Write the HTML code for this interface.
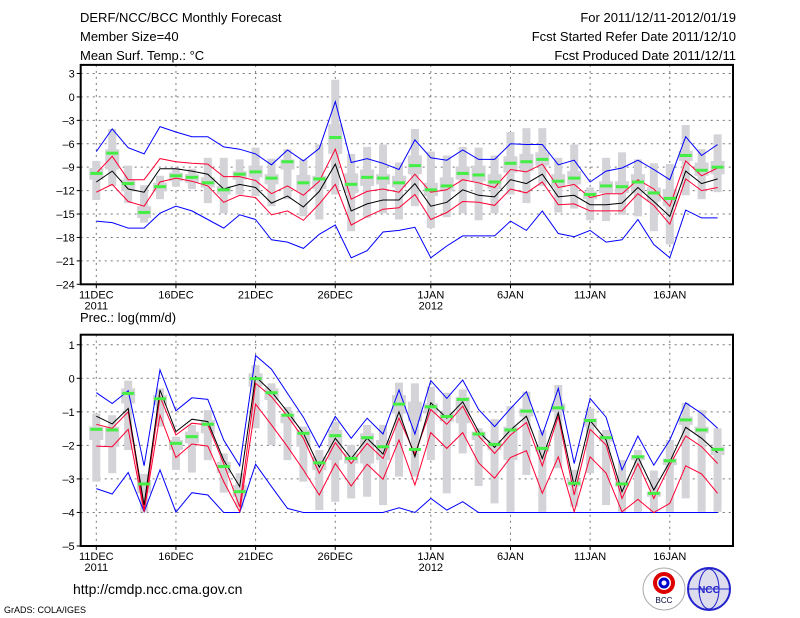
<!DOCTYPE html>
<html><head><meta charset="utf-8"><style>
html,body{margin:0;padding:0;background:#fff;width:800px;height:618px;overflow:hidden}
svg{display:block;font-family:"Liberation Sans",sans-serif}
</style></head><body>
<svg id="chart" width="800" height="618" viewBox="0 0 800 618">
<text x="80" y="22" font-size="13">DERF/NCC/BCC Monthly Forecast</text>
<text x="80" y="41" font-size="13">Member Size=40</text>
<text x="80" y="60" font-size="13">Mean Surf. Temp.: °C</text>
<text x="736" y="22" font-size="13" text-anchor="end">For 2011/12/11-2012/01/19</text>
<text x="736" y="41" font-size="13" text-anchor="end">Fcst Started Refer Date 2011/12/10</text>
<text x="736" y="60" font-size="13" text-anchor="end">Fcst Produced Date 2011/12/11</text>
<text x="80" y="322" font-size="13">Prec.: log(mm/d)</text>
<text x="73" y="594" font-size="14">http://cmdp.ncc.cma.gov.cn</text>
<text x="4" y="613" font-size="9">GrADS: COLA/IGES</text>
<g>
<circle cx="664" cy="589" r="21" fill="#fff" stroke="#aaa"/>
<circle cx="664" cy="583" r="9" fill="none" stroke="#d00" stroke-width="4"/>
<circle cx="664" cy="583" r="4" fill="none" stroke="#00c" stroke-width="3"/>
<text x="664" y="603" font-size="8" text-anchor="middle" fill="#003">BCC</text>
</g>
<g>
<circle cx="709" cy="589" r="21" fill="#dde" stroke="#22c" stroke-width="2"/>
<ellipse cx="709" cy="589" rx="10" ry="20" fill="none" stroke="#22c"/>
<line x1="689" y1="589" x2="729" y2="589" stroke="#22c"/>
<text x="709" y="593" font-size="10" text-anchor="middle" fill="#22c" font-weight="bold">NCC</text>
</g>
<g id="p1"></g><g id="p2"></g>
</svg>
<script>
// ---------- data ----------
const days = 40;
const xLabels = ["11DEC","16DEC","21DEC","26DEC","1JAN","6JAN","11JAN","16JAN"];
const xLabelIdx = [0,5,10,15,21,26,31,36];
const yearLabels = ["2011","2012"];
const yearIdx = [0,21];

const tTicks = [3,0,-3,-6,-9,-12,-15,-18,-21,-24];
const tBlueHi = [-7.0,-4.1,-6.5,-7.3,-3.8,-4.5,-5.1,-5.1,-6.4,-6.7,-7.3,-8.7,-6.8,-8.2,-6.6,-0.6,-8.4,-7.9,-8.5,-9.3,-5.5,-7.8,-8.1,-6.8,-8.0,-8.0,-6.0,-6.1,-6.1,-8.7,-8.1,-10.9,-9.5,-9.1,-8.1,-9.3,-10.6,-5.1,-7.5,-6.1];
const tBlueLo = [-15.9,-16.1,-16.8,-16.8,-14.9,-14.0,-14.6,-15.7,-16.8,-15.1,-15.7,-18.3,-18.6,-19.4,-17.6,-16.4,-20.6,-19.7,-17.3,-17.1,-16.7,-20.6,-19.1,-17.8,-17.8,-17.8,-15.9,-17.1,-14.6,-17.5,-17.9,-17.1,-18.6,-18.3,-15.7,-18.9,-20.6,-14.5,-15.5,-15.5];
const tRedHi = [-9.8,-7.6,-10.6,-10.6,-7.9,-8.3,-8.5,-8.6,-10.2,-10.2,-10.7,-12.4,-11.4,-12.6,-10.8,-6.7,-13.1,-12.1,-11.8,-12.2,-9.9,-12.2,-11.9,-10.6,-11.0,-11.6,-9.3,-9.6,-8.6,-11.6,-11.2,-12.9,-12.4,-12.4,-10.6,-11.8,-14.0,-8.2,-10.1,-9.1];
const tMean = [-10.9,-9.5,-11.8,-12.2,-9.2,-9.2,-9.5,-9.9,-11.8,-11.2,-11.6,-13.6,-12.7,-14.1,-12.1,-8.6,-14.6,-13.7,-13.2,-13.2,-11.1,-14.0,-13.5,-11.9,-12.6,-12.8,-10.6,-11.1,-9.9,-12.8,-12.6,-13.8,-13.8,-13.6,-11.6,-13.4,-15.3,-9.5,-11.1,-10.5];
const tRedLo = [-12.2,-11.2,-13.4,-14.0,-10.9,-10.4,-10.8,-11.4,-13.5,-12.6,-12.9,-15.1,-14.6,-15.8,-13.7,-11.2,-16.4,-15.3,-14.4,-14.2,-12.5,-15.7,-14.8,-13.4,-13.5,-13.9,-11.8,-12.3,-10.9,-13.8,-13.7,-14.6,-14.6,-14.6,-12.4,-13.9,-16.3,-10.5,-12.0,-11.6];
const tObs = [-9.8,-7.2,-11.1,-14.8,-11.5,-10.1,-10.3,-11.0,-11.9,-9.9,-9.6,-10.4,-8.3,-11.0,-10.5,-5.2,-11.2,-10.3,-10.4,-11.0,-8.8,-11.9,-11.4,-9.8,-10.0,-10.9,-8.5,-8.3,-8.0,-10.8,-10.4,-12.5,-11.4,-11.5,-10.9,-12.3,-13.0,-7.5,-9.4,-9.0];
const tBoxMax = [-8.2,-4.1,-8.8,-11.3,-10.1,-9.1,-9.2,-7.8,-7.8,-8.0,-6.5,-7.9,-6.7,-8.0,-6.1,2.2,-7.3,-6.4,-6.1,-8.4,-4.1,-7.0,-7.5,-6.4,-6.5,-7.5,-4.5,-4.0,-4.0,-7.8,-6.1,-11.6,-7.8,-7.1,-8.0,-8.5,-8.6,-3.6,-6.7,-4.8];
const tBoxMin = [-13.2,-11.4,-13.6,-16.1,-13.1,-11.5,-11.8,-13.6,-14.9,-12.5,-12.7,-14.0,-13.1,-15.3,-15.7,-12.5,-17.2,-15.5,-14.9,-15.7,-14.0,-16.8,-15.4,-14.9,-15.8,-14.9,-12.5,-13.6,-11.4,-14.8,-14.3,-15.8,-15.9,-15.1,-15.3,-17.2,-18.9,-12.6,-13.1,-12.2];
const tBoxQ3 = [-9.1,-6.7,-10.6,-14.0,-11.0,-9.7,-9.9,-10.3,-11.4,-9.5,-8.8,-9.9,-8.0,-10.0,-10.1,-3.5,-9.8,-9.3,-9.9,-10.1,-7.5,-11.0,-10.3,-8.9,-8.8,-9.9,-7.6,-7.3,-7.1,-9.9,-9.5,-12.1,-10.8,-10.8,-9.9,-11.6,-11.8,-6.9,-8.4,-8.2];
const tBoxQ1 = [-10.6,-9.3,-12.1,-15.5,-12.1,-10.8,-11.0,-11.6,-12.5,-10.6,-10.3,-11.2,-9.3,-12.1,-11.8,-7.3,-12.3,-11.4,-11.2,-11.6,-9.9,-12.7,-12.1,-10.6,-10.8,-11.8,-9.7,-9.5,-8.8,-11.6,-11.2,-13.1,-12.3,-12.3,-12.3,-13.4,-14.0,-8.2,-10.1,-9.9];

const pTicks = [1,0,-1,-2,-3,-4,-5];
const pBlueHi = [-0.43,-0.75,-0.37,-2.61,0.25,-0.97,-0.58,-0.63,-1.84,-2.61,0.68,0.27,-0.45,-1.16,-2.06,-1.14,-1.79,-1.19,-1.66,-0.35,-1.66,-0.07,-0.6,-0.05,-0.93,-1.44,-0.9,-0.4,-1.69,-0.3,-2.54,-0.6,-1.16,-2.73,-1.72,-2.59,-1.84,-0.73,-1.05,-1.49];
const pBlueLo = [-3.29,-3.45,-2.81,-3.98,-2.73,-3.99,-3.41,-3.48,-4,-4,-2.56,-3.23,-3.88,-4,-4,-4,-4,-4,-4,-3.86,-4,-3.58,-3.93,-3.68,-4,-4,-4,-4,-4,-4,-4,-4,-4,-4,-4,-4,-4,-4,-4,-4];
const pRedHi = [-1.37,-1.49,-1.0,-3.93,-0.55,-1.69,-1.34,-1.39,-2.54,-3.83,-0.15,-0.55,-1.13,-1.79,-2.83,-1.92,-2.54,-1.94,-2.39,-1.19,-2.26,-0.93,-1.37,-0.83,-1.72,-2.24,-1.69,-1.32,-2.61,-1.13,-3.48,-1.52,-1.99,-3.58,-2.54,-3.58,-2.59,-1.72,-2.04,-2.54];
const pMean = [-1.13,-1.36,-0.9,-3.78,-0.35,-1.59,-1.22,-1.29,-2.44,-3.23,0.05,-0.4,-1.0,-1.64,-2.65,-1.79,-2.39,-1.79,-2.26,-1.0,-2.34,-0.73,-1.19,-0.7,-1.59,-2.06,-1.54,-1.13,-2.39,-1.03,-3.21,-1.26,-1.84,-3.38,-2.34,-3.33,-2.49,-1.46,-1.79,-2.22];
const pRedLo = [-2.02,-2.04,-1.52,-3.98,-1.1,-2.36,-1.96,-2.02,-3.08,-3.98,-0.77,-1.39,-2.04,-2.73,-3.48,-2.54,-3.21,-2.56,-3.01,-1.84,-3.18,-1.62,-2.09,-1.62,-2.52,-2.98,-2.36,-2.16,-3.43,-2.34,-3.98,-2.34,-2.83,-3.98,-3.61,-4.0,-3.73,-2.61,-2.85,-3.43];
const pObs = [-1.52,-1.54,-0.45,-3.15,-0.61,-1.94,-1.74,-1.37,-2.63,-3.38,-0.01,-0.43,-1.1,-1.64,-2.52,-1.71,-2.39,-1.77,-2.04,-0.77,-2.12,-0.85,-1.14,-0.63,-1.66,-1.97,-1.54,-0.98,-2.09,-0.88,-3.13,-1.26,-1.77,-3.15,-2.34,-3.43,-2.46,-1.24,-1.54,-2.12];
const pBoxMax = [-1.05,-1.1,-0.07,-2.85,-0.3,-1.74,-1.39,-0.95,-2.24,-2.83,0.39,-0.15,-0.85,-1.44,-2.14,-1.29,-1.99,-1.39,-1.39,-0.13,-0.15,-0.25,-0.43,-0.33,-1.49,-1.22,-0.83,-0.4,-1.54,-0.2,-2.73,-0.9,-1.54,-2.44,-2.14,-2.75,-1.84,-0.73,-0.95,-1.49];
const pBoxMin = [-3.08,-2.83,-2.14,-3.98,-1.44,-2.73,-2.81,-2.44,-3.41,-3.85,-1.49,-1.99,-2.44,-3.08,-3.93,-3.68,-3.58,-3.53,-3.78,-2.93,-2.93,-2.44,-3.43,-2.24,-3.21,-3.73,-3.98,-2.88,-3.98,-2.68,-3.83,-2.83,-3.78,-3.98,-3.98,-3.98,-3.98,-3.58,-3.98,-3.98];
const pBoxQ3 = [-1.44,-1.44,-0.30,-3.03,-0.50,-1.84,-1.59,-1.24,-2.49,-3.18,0.15,-0.30,-1.05,-1.54,-2.34,-1.54,-2.24,-1.64,-1.84,-0.50,-0.70,-0.75,-1.0,-0.55,-1.59,-1.84,-1.44,-0.90,-1.99,-0.75,-3.03,-1.19,-1.69,-3.08,-2.29,-3.38,-2.39,-1.14,-1.44,-2.04];
const pBoxQ1 = [-1.84,-2.04,-0.75,-3.43,-0.80,-2.14,-1.94,-1.64,-2.83,-3.53,-0.25,-0.65,-1.34,-2.04,-2.73,-2.44,-2.54,-2.54,-2.44,-1.05,-1.29,-1.05,-1.29,-1.34,-1.84,-2.14,-2.44,-1.14,-2.19,-1.0,-3.23,-1.44,-1.89,-3.23,-2.44,-3.53,-2.59,-1.39,-1.64,-2.29];

// ---------- drawing ----------
const NS = "http://www.w3.org/2000/svg";
const X0 = 80.7, X1 = 733, XD0 = 96.3, XSTEP = 15.93;
function xPos(i){ return XD0 + i*XSTEP; }
function mk(parent, tag, attrs){
  const e = document.createElementNS(NS, tag);
  for (const k in attrs) e.setAttribute(k, attrs[k]);
  parent.appendChild(e); return e;
}
function panel(g, top, bottom, vTop, vBot, ticks, tickLbl, d, pre){
  const yPos = v => top + (vTop - v) * (bottom - top) / (vTop - vBot);
  // grid
  ticks.forEach(t => {
    const y = yPos(t);
    const gl = mk(g, "line", {x1:X0, x2:X1, y1:y, y2:y, stroke:"#777", "stroke-dasharray":"2,4", "stroke-width":1});
    
    
    const tk = mk(g, "line", {x1:X0-4, x2:X0, y1:y, y2:y, stroke:"#000"});
    
    
    const tl = mk(g, "text", {x:X0-6, y:y+4, "font-size":11, "text-anchor":"end"});
    tl.textContent = tickLbl(t);
    
    
  });
  xLabelIdx.forEach((ix, k) => {
    const x = xPos(ix);
    const gl = mk(g, "line", {x1:x, x2:x, y1:top, y2:bottom, stroke:"#777", "stroke-dasharray":"2,4"});
    
    
    const tk = mk(g, "line", {x1:x, x2:x, y1:bottom, y2:bottom+4, stroke:"#000"});
    
    
    const tl = mk(g, "text", {x:x, y:bottom+14, "font-size":11, "text-anchor":"middle"});
    tl.textContent = xLabels[k];
    
    
  });
  yearIdx.forEach((ix, k) => {
    const tl = mk(g, "text", {x:xPos(ix), y:bottom+25, "font-size":11, "text-anchor":"middle"});
    tl.textContent = yearLabels[k];
    
    
  });
  // boxes
  for (let i = 0; i < days; i++){
    const x = xPos(i);
    const w = mk(g, "rect", {x:x-4, width:8, y:yPos(d.bmax[i]), height:Math.max(1,yPos(d.bmin[i])-yPos(d.bmax[i])), fill:"#d3d3d8"});
    
    
    const b = mk(g, "rect", {x:x-7, width:14, y:yPos(d.q3[i]), height:Math.max(1,yPos(d.q1[i])-yPos(d.q3[i])), fill:"#d3d3d8"});
    
    
  }
  const line = (arr, col, nm) => {
    const p = mk(g, "polyline", {points: arr.map((v,i)=>xPos(i).toFixed(1)+","+yPos(v).toFixed(1)).join(" "), fill:"none", stroke:col, "stroke-width":1});
    
    
  };
  line(d.bhi, "#0000ff", pre+'-max-line');
  line(d.blo, "#0000ff", pre+'-min-line');
  line(d.rhi, "#ff0033", pre+'-upper-line');
  line(d.rlo, "#ff0033", pre+'-lower-line');
  line(d.mean, "#000000", pre+'-mean-line');
  for (let i = 0; i < days; i++){
    const o = mk(g, "rect", {x:xPos(i)-6, width:12, y:yPos(d.obs[i])-1.5, height:3, fill:"#44ee44"});
    
    
  }
  const f = mk(g, "rect", {x:X0, y:top, width:X1-X0, height:bottom-top, fill:"none", stroke:"#000", "stroke-width":2});
  
  
}
const lbl = t => t > 0 ? String(t) : (t === 0 ? "0" : "\u2013" + Math.abs(t));
panel(document.getElementById("p1"), 64.9, 284.3, 4.1, -24, tTicks, lbl,
  {bmax:tBoxMax,bmin:tBoxMin,q3:tBoxQ3,q1:tBoxQ1,bhi:tBlueHi,blo:tBlueLo,rhi:tRedHi,rlo:tRedLo,mean:tMean,obs:tObs}, "temp");
panel(document.getElementById("p2"), 334.7, 546, 1.3, -5, pTicks, lbl,
  {bmax:pBoxMax,bmin:pBoxMin,q3:pBoxQ3,q1:pBoxQ1,bhi:pBlueHi,blo:pBlueLo,rhi:pRedHi,rlo:pRedLo,mean:pMean,obs:pObs}, "prec");
</script>
</body></html>
